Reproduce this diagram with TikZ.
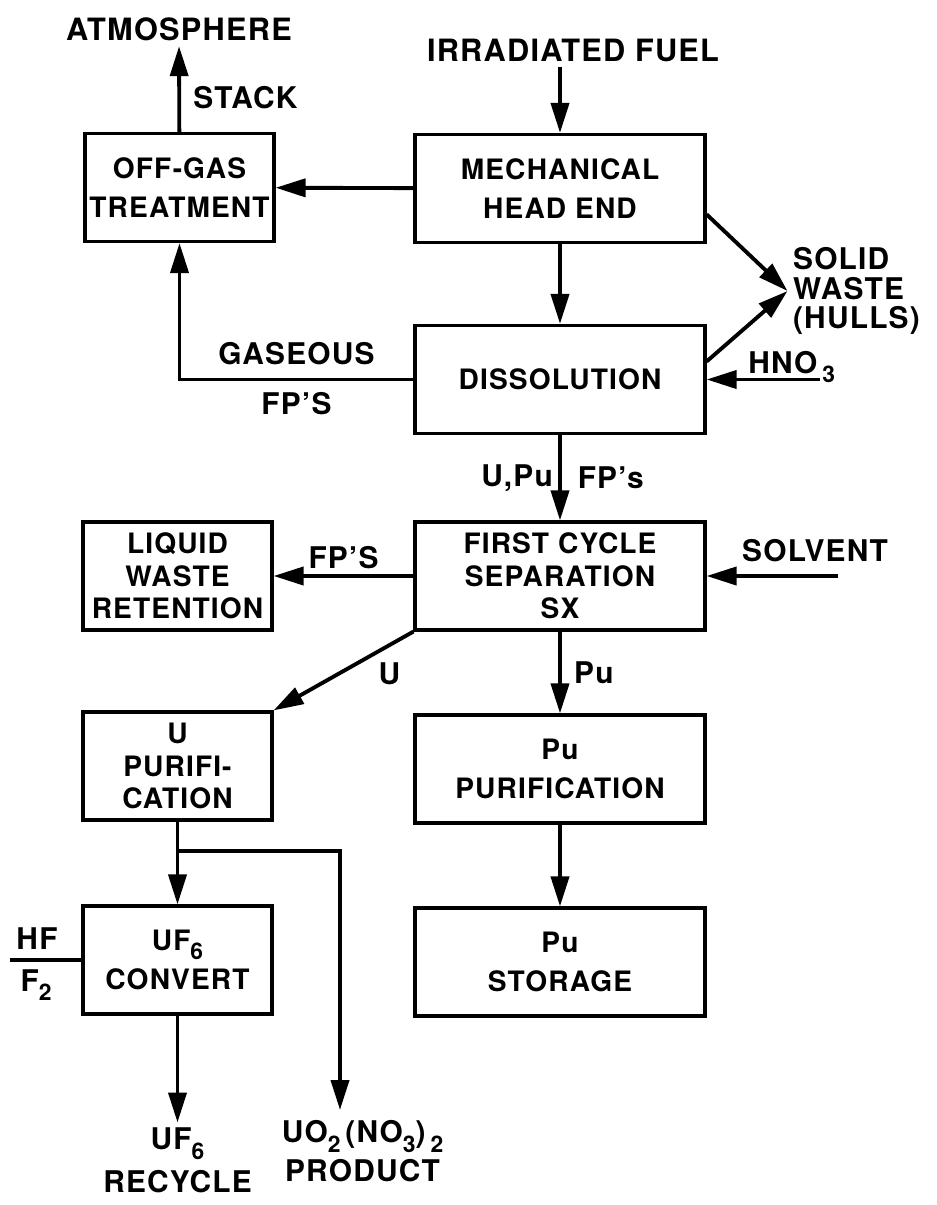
\documentclass[tikz,border=0pt]{standalone}
\usepackage{fontspec}
\setmainfont{TeX Gyre Heros}[LetterSpace=4]
\usetikzlibrary{arrows.meta,positioning,calc}
\newcommand\boxfont{\fontsize{16}{22}\selectfont\bfseries}
\newcommand\tightfont{\fontsize{16}{18.5}\selectfont\bfseries}
\newcommand\tagfont{\fontsize{17}{17}\selectfont\bfseries}
\newcommand\headfont{\fontsize{17.5}{20}\selectfont\bfseries}
\newcommand\lowsub[1]{\raisebox{-0.6ex}{\fontsize{13}{13}\selectfont#1}}
\tikzset{
  unit/.style={draw,line width=1.8pt,minimum width=3.78cm,minimum height=2.16cm,
    align=center,font=\boxfont,inner sep=2pt},
  wideunit/.style={unit,minimum width=5.8cm},
  flow/.style={-{Triangle[length=6mm,width=3.6mm]},line width=2.2pt},
  stream/.style={line width=2.2pt},
  tag/.style={font=\tagfont,align=center,inner sep=3pt},
  head/.style={font=\headfont,inner sep=3pt}
}

\begin{document}
\begin{tikzpicture}
  \useasboundingbox (0,0) rectangle (18.72,-24.1);
  % process units
  \node[unit] (offgas) at (3.59,-3.75) {OFF-GAS\\TREATMENT};
  \node[wideunit] (mech) at (11.2,-3.77) {MECHANICAL\\HEAD END};
  \node[wideunit] (dissol) at (11.2,-7.59) {DISSOLUTION};
  \node[wideunit,font=\tightfont] (sep) at (11.2,-11.52) {FIRST CYCLE\\SEPARATION\\SX};
  \node[unit,font=\tightfont] (liquid) at (3.55,-11.52) {LIQUID\\WASTE\\RETENTION};
  \node[unit,font=\tightfont] (upur) at (3.55,-15.32) {U\\PURIFI-\\CATION};
  \node[wideunit] (pupur) at (11.2,-15.38) {Pu\\PURIFICATION};
  \node[unit] (uf6) at (3.55,-19.2) {UF\lowsub{6}\\CONVERT};
  \node[wideunit] (pustore) at (11.2,-19.24) {Pu\\STORAGE};
  % feeds and products
  \node[head] (atmos) at (3.58,-0.58) {ATMOSPHERE};
  \node[head] (fuel) at (11.46,-1.0) {IRRADIATED FUEL};
  \node[tag,align=left,anchor=west] (waste) at (15.75,-5.82) {SOLID\\WASTE\\(HULLS)};
  \node[tag,anchor=base west,inner sep=0pt] (hno) at (14.96,-7.46) {HNO\,\lowsub{3}};
  \coordinate (hnoin) at (16.4,-7.59);
  \node[tag] (solvent) at (16.3,-11.02) {SOLVENT};
  \coordinate (solvin) at (16.76,-11.52);
  \node[tag] (hf) at (0.74,-18.78) {HF};
  \node[tag] (ftwo) at (0.72,-19.7) {F\lowsub{2}};
  \coordinate (hfin) at (0.2,-19.2);
  \node[tag,anchor=north,font=\fontsize{17}{24}\selectfont\bfseries] (recycle) at (3.55,-22.45) {UF\lowsub{6}\\RECYCLE};
  \node[tag,anchor=north,font=\fontsize{17}{22}\selectfont\bfseries] (product) at (7.25,-22.3) {UO\lowsub{2}\,(NO\lowsub{3})\,\lowsub{2}\\PRODUCT};
  \coordinate (prodtop) at (6.8,-22.2);
  \coordinate (split) at ($(upur.south)!0.35!(uf6.north)$);
  % connectors
  \draw[flow] (offgas) -- node[pos=0.4,right=4pt,tag]{STACK} (atmos);
  \draw[flow] (fuel.south -| mech) -- (mech);
  \draw[flow] (mech) -- (offgas);
  \draw[flow] (mech) -- (dissol);
  \draw[flow] (mech.-10) -- (waste.west);
  \draw[flow] (dissol.7) -- (waste.west);
  \draw[flow] (hnoin) -- (dissol.east);
  \draw[flow] (dissol.west) -| node[pos=0.25,above=4pt,tag]{GASEOUS}
    node[pos=0.25,below=3pt,tag]{FP'S} (offgas.south);
  \draw[flow] (dissol) -- node[left,tag]{U,Pu} node[right=6pt,tag]{FP's} (sep);
  \draw[flow] (solvin) -- (sep.east);
  \draw[flow] (sep) -- node[above,tag]{FP'S} (liquid);
  \draw[flow] (sep.south west) -- node[pos=0.3,below right,tag]{U} (upur.north east);
  \draw[flow] (sep) -- node[right=4pt,tag]{Pu} (pupur);
  \draw[flow] (pupur) -- (pustore);
  \draw[flow] (upur) -- (uf6);
  \draw[flow] (split) -| (prodtop);
  \draw[stream] (hfin) -- (uf6.west);
  \draw[flow] (uf6) -- (recycle);
\end{tikzpicture}
\end{document}
